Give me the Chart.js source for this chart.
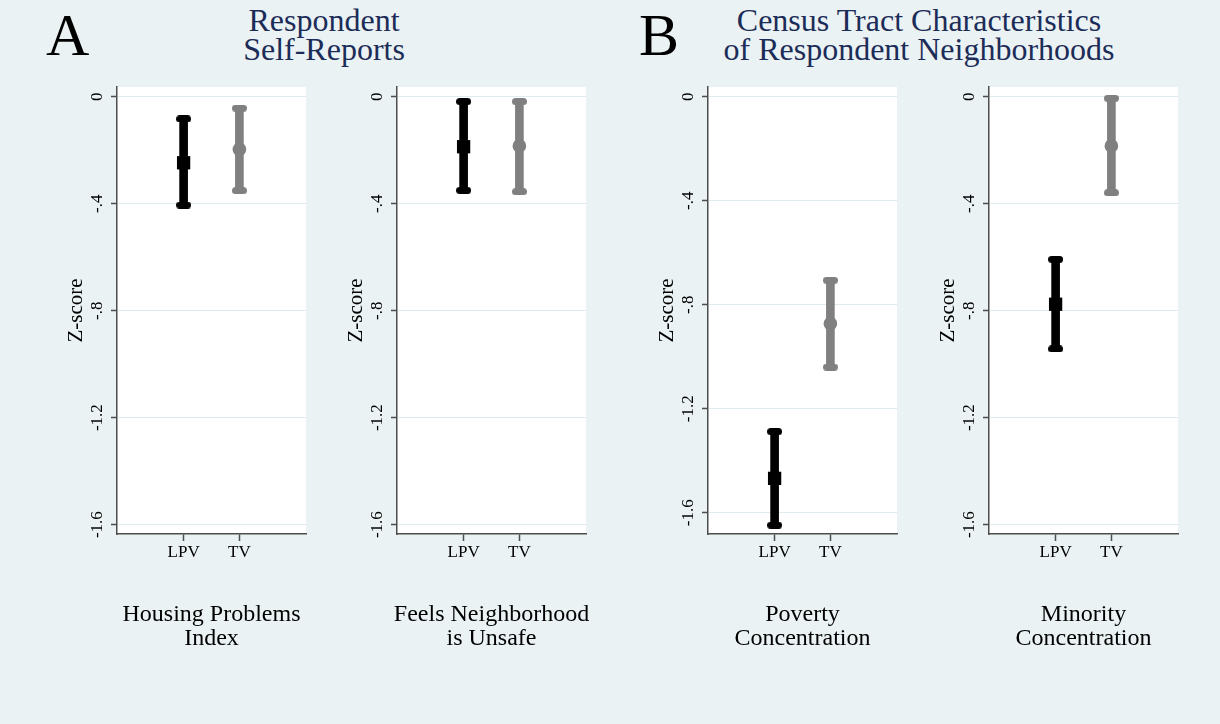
<!DOCTYPE html>
<html>
<head>
<meta charset="utf-8">
<script src="https://cdn.jsdelivr.net/npm/chart.js@4.4.1/dist/chart.umd.min.js"></script>
<style>
  html, body { margin: 0; padding: 0; }
  body {
    width: 1220px; height: 724px; position: relative; overflow: hidden;
    background: #eaf2f3;
    font-family: 'Liberation Serif', 'Times New Roman', serif;
  }
  .panel { position: absolute; top: 0; }
  .letter { position: absolute; top: 5px; font-size: 60px; line-height: 60px; color: #000; }
  .head {
    position: absolute; top: 6px; font-size: 32px; line-height: 29px;
    color: #1c2c58; text-align: center; white-space: nowrap;
  }
</style>
</head>
<body>
<div class="letter" style="left:46px">A</div>
<div class="head" style="left:174px;width:300px">Respondent<br>Self-Reports</div>
<div class="letter" style="left:639px">B</div>
<div class="head" style="left:669px;width:500px">Census Tract Characteristics<br>of Respondent Neighborhoods</div>

<canvas id="p1" class="panel" width="309" height="724" style="left:57px;width:309px;height:724px"></canvas>
<canvas id="p2" class="panel" width="309" height="724" style="left:337px;width:309px;height:724px"></canvas>
<canvas id="p3" class="panel" width="309" height="724" style="left:648px;width:309px;height:724px"></canvas>
<canvas id="p4" class="panel" width="309" height="724" style="left:929px;width:309px;height:724px"></canvas>

<script>
// ---- data -------------------------------------------------------------
const groupLabels = ['LPV', 'TV'];
const groupX = [1, 2];
const yTickValues = [0, -0.4, -0.8, -1.2, -1.6];
const yTickLabels = ['0', '-.4', '-.8', '-1.2', '-1.6'];

// Housing Problems Index
const housingCaption = ['Housing Problems', 'Index'];
const housingEst  = [-0.247, -0.197];
const housingLow  = [-0.405, -0.351];
const housingHigh = [-0.083, -0.043];

// Feels Neighborhood is Unsafe
const unsafeCaption = ['Feels Neighborhood', 'is Unsafe'];
const unsafeEst  = [-0.187, -0.184];
const unsafeLow  = [-0.350, -0.355];
const unsafeHigh = [-0.018, -0.018];

// Poverty Concentration
const povertyCaption = ['Poverty', 'Concentration'];
const povertyEst  = [-1.468, -0.873];
const povertyLow  = [-1.648, -1.040];
const povertyHigh = [-1.288, -0.706];

// Minority Concentration
const minorityCaption = ['Minority', 'Concentration'];
const minorityEst  = [-0.776, -0.184];
const minorityLow  = [-0.943, -0.359];
const minorityHigh = [-0.608, -0.006];

// ---- styling ----------------------------------------------------------
const BLACK = '#000000';
const GRAY = '#808080';
const AXIS = '#4d4d4d';
const GRID = '#e1eaee';
const Y_MARGIN = 60;
const X_MIN = -0.194, X_MAX = 3.194;

Chart.defaults.font.family = "'Liberation Serif', 'Times New Roman', serif";
Chart.defaults.color = '#000';

// rounded end caps for the confidence-interval whiskers
function capImage(color) {
  const c = document.createElement('canvas');
  c.width = 15; c.height = 7;
  const g = c.getContext('2d');
  g.strokeStyle = color;
  g.lineWidth = 7;
  g.lineCap = 'round';
  g.beginPath();
  g.moveTo(3.5, 3.5);
  g.lineTo(11.5, 3.5);
  g.stroke();
  return c;
}
const capBlack = capImage(BLACK);
const capGray = capImage(GRAY);

// white plotting region behind grid and marks
const plotBackground = {
  id: 'plotBackground',
  beforeDraw(chart) {
    const {ctx, chartArea: a} = chart;
    ctx.save();
    ctx.fillStyle = '#ffffff';
    ctx.fillRect(a.left, a.top, a.right - a.left, a.bottom - a.top);
    ctx.restore();
  }
};

function buildPanel(id, caption, est, low, high, yMin, yMax) {
  new Chart(document.getElementById(id), {
    type: 'bar',
    data: {
      datasets: [
        { type: 'scatter', order: 1, data: [{x: groupX[0], y: est[0]}],
          pointStyle: 'rect', pointRadius: 9.4, pointBackgroundColor: BLACK, pointBorderWidth: 0 },
        { type: 'scatter', order: 1, data: [{x: groupX[1], y: est[1]}],
          pointStyle: 'circle', pointRadius: 6.8, pointBackgroundColor: GRAY, pointBorderWidth: 0 },
        { type: 'scatter', order: 2, data: [{x: groupX[0], y: low[0]}, {x: groupX[0], y: high[0]}],
          pointStyle: capBlack, pointRadius: 4, pointBorderWidth: 0 },
        { type: 'scatter', order: 2, data: [{x: groupX[1], y: low[1]}, {x: groupX[1], y: high[1]}],
          pointStyle: capGray, pointRadius: 4, pointBorderWidth: 0 },
        { type: 'bar', order: 3,
          data: groupX.map((x, i) => ({x: x, y: [low[i], high[i]]})),
          backgroundColor: [BLACK, GRAY], borderWidth: 0, borderSkipped: false, barThickness: 8 }
      ]
    },
    options: {
      responsive: false,
      devicePixelRatio: 1,
      animation: false,
      events: [],
      layout: { padding: { top: 87, bottom: 73.1, left: 0, right: 0 } },
      plugins: {
        legend: { display: false },
        tooltip: { enabled: false },
        title: {
          display: true, position: 'bottom', fullSize: true,
          text: caption, color: '#000',
          font: { size: 24, weight: 'normal', lineHeight: 1 },
          padding: { top: 38.9, bottom: 0 }
        }
      },
      scales: {
        x: {
          type: 'linear', position: 'bottom', min: X_MIN, max: X_MAX, offset: false,
          afterBuildTicks: s => { s.ticks = groupX.map(v => ({value: v})); },
          afterFit: s => { s.height = 30; },
          grid: { drawOnChartArea: false, drawTicks: true, tickLength: 7, tickColor: AXIS, tickWidth: 1.5, offset: false },
          border: { display: true, color: AXIS, width: 1.5 },
          ticks: { font: { size: 17 }, color: '#000', padding: 1, minRotation: 0, maxRotation: 0,
                   autoSkip: false, callback: (v, i) => groupLabels[i] }
        },
        y: {
          type: 'linear', position: 'left', min: yMin, max: yMax, beginAtZero: false,
          afterBuildTicks: s => { s.ticks = yTickValues.map(v => ({value: v})); },
          afterFit: s => { s.width = Y_MARGIN; },
          grid: { color: GRID, lineWidth: 1, drawTicks: true, tickLength: 6, tickColor: AXIS, tickWidth: 1.5 },
          border: { display: true, color: AXIS, width: 1.5 },
          ticks: { font: { size: 17 }, color: '#000', padding: 0.5, minRotation: 90, maxRotation: 90,
                   crossAlign: 'center', autoSkip: false, callback: (v, i) => yTickLabels[i] },
          title: { display: true, text: 'Z-score', color: '#000', font: { size: 21 },
                   padding: { top: 6.7, bottom: 0 } }
        },
        // empty right-hand margin so the caption centres under the plot
        yBalance: {
          type: 'linear', position: 'right', display: true,
          grid: { display: false }, ticks: { display: false }, border: { display: false },
          afterFit: s => { s.width = Y_MARGIN; }
        }
      }
    },
    plugins: [plotBackground]
  });
}

buildPanel('p1', housingCaption, housingEst, housingLow, housingHigh, -1.635, 0.0363);
buildPanel('p2', unsafeCaption, unsafeEst, unsafeLow, unsafeHigh, -1.635, 0.0363);
buildPanel('p3', povertyCaption, povertyEst, povertyLow, povertyHigh, -1.682, 0.0373);
buildPanel('p4', minorityCaption, minorityEst, minorityLow, minorityHigh, -1.635, 0.0363);
</script>
</body>
</html>
